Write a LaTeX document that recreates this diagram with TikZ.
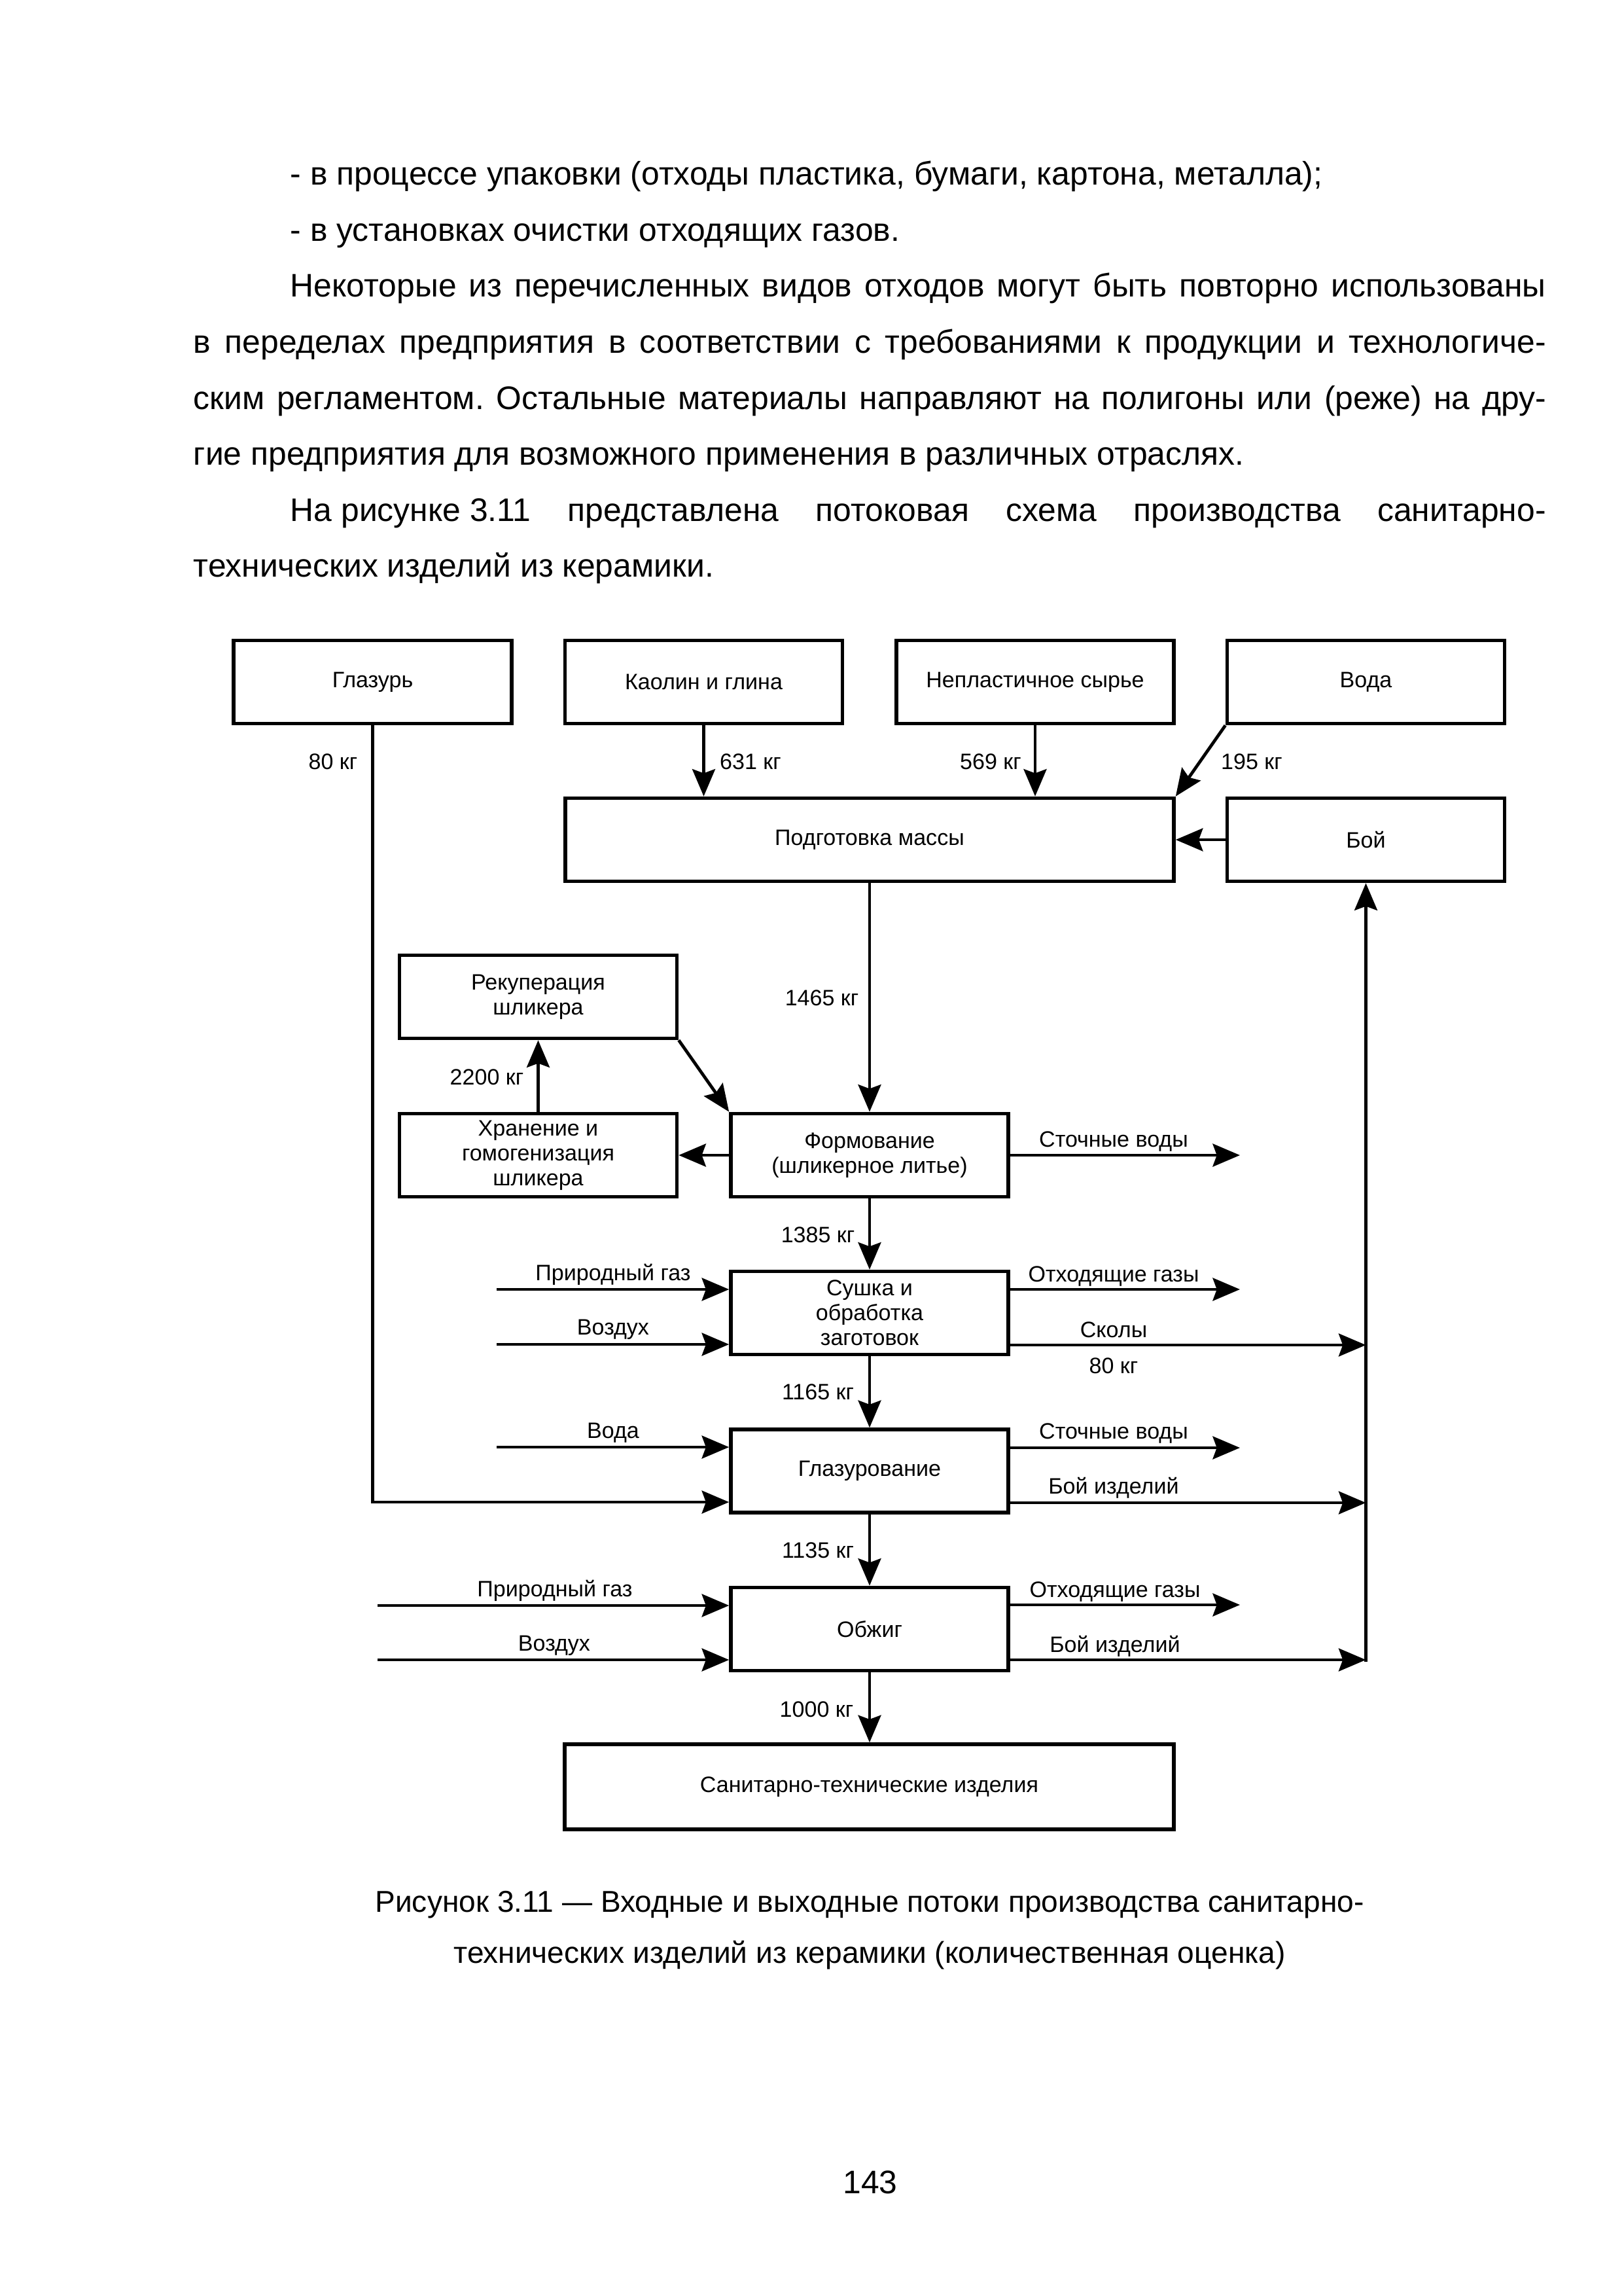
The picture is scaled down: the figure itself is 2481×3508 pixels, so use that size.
\documentclass[tikz,border=0pt]{standalone}
\usepackage{fontspec}
\setmainfont{Liberation Sans}
\usetikzlibrary{arrows.meta}
\frenchspacing
\newlength\pxu
\setlength\pxu{0.084643mm}
\newcommand\dfont{\fontsize{8.2}{9.2}\selectfont}
\newcommand\bfont{\fontsize{12}{14}\selectfont}
\newcommand\cfont{\fontsize{11.1}{13}\selectfont}
\tikzset{
  box/.style={draw, line width=1.35pt, inner sep=0pt, align=center, font=\dfont,
              minimum width=424\pxu, minimum height=127\pxu},
  arr/.style={line width=1.15pt, -{Stealth[length=10pt,width=8.4pt,inset=1.5pt]}},
  lab/.style={anchor=base, inner sep=0pt, font=\dfont},
  body/.style={anchor=base west, inner sep=0pt, font=\bfont},
  capt/.style={anchor=base, inner sep=0pt, font=\cfont},
  pnumst/.style={anchor=base, inner sep=0pt, font=\bfont},
}
\begin{document}
\begin{tikzpicture}[x=0.084643mm, y=-0.084643mm]
\useasboundingbox (0,0) rectangle (2481,3508);

% ---------- body text ----------
\node[body] (t1) at (443,282) {- в процессе упаковки (отходы пластика, бумаги, картона, металла);};
\node[body] (t2) at (443,368) {- в установках очистки отходящих газов.};
\node[body] (t3) at (443,453) {\makebox[1919\pxu][s]{Некоторые из перечисленных видов отходов могут быть повторно использованы}};
\node[body] (t4) at (295,539) {\makebox[2067\pxu][s]{в переделах предприятия в соответствии с требованиями к продукции и технологиче-}};
\node[body] (t5) at (295,625) {\makebox[2067\pxu][s]{ским регламентом. Остальные материалы направляют на полигоны или (реже) на дру-}};
\node[body] (t6) at (295,710) {гие предприятия для возможного применения в различных отраслях.};
\node[body] (t7) at (443,796) {\makebox[1919\pxu][s]{На\hspace{0.278em}рисунке\hspace{0.278em}3.11 представлена потоковая схема производства санитарно-}};
\node[body] (t8) at (295,881) {технических изделий из керамики.};

% ---------- boxes ----------
\node[box, minimum width=425\pxu] (glaz) at (569.5,1042) {Глазурь};
\node[box] (kaolin) at (1075.5,1042) {Каолин и глина};
\node[box] (neplast) at (1582,1042) {Непластичное сырье};
\node[box] (voda) at (2087.5,1042) {Вода};
\node[box, minimum width=930\pxu] (podg) at (1329,1283) {Подготовка массы};
\node[box] (boy) at (2087.5,1283) {Бой};
\node[box] (rek) at (822.5,1523) {Рекуперация\\шликера};
\node[box] (hran) at (822.5,1765) {Хранение и\\гомогенизация\\шликера};
\node[box] (form) at (1329,1765) {Формование\\(шликерное литье)};
\node[box] (sush) at (1329,2006) {Сушка и\\обработка\\заготовок};
\node[box] (glzv) at (1329,2247.5) {Глазурование};
\node[box] (obzh) at (1329,2489) {Обжиг};
\node[box, minimum width=931\pxu, minimum height=130\pxu] (san) at (1328.5,2730) {Санитарно-технические изделия};

% ---------- free ends ----------
\coordinate (a1) at (759,1970);
\coordinate (a2) at (759,2054);
\coordinate (a3) at (759,2211);
\coordinate (gzc) at (569,2295);
\coordinate (a5) at (577,2453);
\coordinate (a6) at (577,2536);
\coordinate (b1) at (1895,1765);
\coordinate (b2) at (1895,1970);
\coordinate (b3) at (1895,2212);
\coordinate (b4) at (1895,2452);
\coordinate (c1) at (2087.5,2055);
\coordinate (c2) at (2087.5,2296);
\coordinate (c3) at (2087.5,2536);
\coordinate (c3b) at (2087.5,2539);

% ---------- connectors ----------
\draw[arr] (kaolin.south) -- (kaolin.south |- podg.north);
\draw[arr] (neplast.south) -- (neplast.south |- podg.north);
\draw[arr] (voda.south west) -- (podg.north east);
\draw[arr] (boy.west) -- (boy.west -| podg.east);
\draw[arr] (podg.south) -- (form.north);
\draw[arr] (rek.south east) -- (form.north west);
\draw[arr] (form.west) -- (form.west -| hran.east);
\draw[arr] (hran.north) -- (rek.south);
\draw[arr] (form.south) -- (sush.north);
\draw[arr] (sush.south) -- (glzv.north);
\draw[arr] (glzv.south) -- (obzh.north);
\draw[arr] (obzh.south) -- (obzh.south |- san.north);

\draw[arr] (a1) -- (a1 -| sush.west);
\draw[arr] (a2) -- (a2 -| sush.west);
\draw[arr] (a3) -- (a3 -| glzv.west);
\draw[arr] (glaz.south) |- (gzc -| glzv.west);
\draw[arr] (a5) -- (a5 -| obzh.west);
\draw[arr] (a6) -- (a6 -| obzh.west);

\draw[arr] (form.east) -- (form.east -| b1);
\draw[arr] (sush.east |- b2) -- (b2);
\draw[arr] (sush.east |- c1) -- (c1);
\draw[arr] (glzv.east |- b3) -- (b3);
\draw[arr] (glzv.east |- c2) -- (c2);
\draw[arr] (obzh.east |- b4) -- (b4);
\draw[arr] (obzh.east |- c3) -- (c3);
\draw[arr] (c3b) -- (boy.south);

% ---------- labels ----------
\node[lab] (l80) at (509,1175) {80 кг};
\node[lab] (l631) at (1147,1175) {631 кг};
\node[lab] (l569) at (1514,1175) {569 кг};
\node[lab] (l195) at (1913,1175) {195 кг};
\node[lab] (l1465) at (1256,1536) {1465 кг};
\node[lab] (l2200) at (744,1657) {2200 кг};
\node[lab] (l1385) at (1250,1898) {1385 кг};
\node[lab] (l1165) at (1250,2138) {1165 кг};
\node[lab] (l1135) at (1250,2380) {1135 кг};
\node[lab] (l1000) at (1248,2623) {1000 кг};

\node[lab] (lpg1) at (937,1956) {Природный газ};
\node[lab] (lvz1) at (937,2039) {Воздух};
\node[lab] (lvd) at (937,2197) {Вода};
\node[lab] (lpg2) at (848,2439) {Природный газ};
\node[lab] (lvz2) at (847,2522) {Воздух};

\node[lab] (lsv1) at (1702,1752) {Сточные воды};
\node[lab] (log1) at (1702,1958) {Отходящие газы};
\node[lab] (lsk) at (1702,2043) {Сколы};
\node[lab] (lsk80) at (1702,2098) {80 кг};
\node[lab] (lsv2) at (1702,2198) {Сточные воды};
\node[lab] (lbi1) at (1702,2282) {Бой изделий};
\node[lab] (log2) at (1704,2440) {Отходящие газы};
\node[lab] (lbi2) at (1704,2524) {Бой изделий};

% ---------- caption and page number ----------
\node[capt] (cap1) at (1329,2921) {Рисунок 3.11 — Входные и выходные потоки производства санитарно-};
\node[capt] (cap2) at (1329,2999) {технических изделий из керамики (количественная оценка)};
\node[pnumst] (pnum) at (1330,3351) {143};
\end{tikzpicture}
\end{document}
